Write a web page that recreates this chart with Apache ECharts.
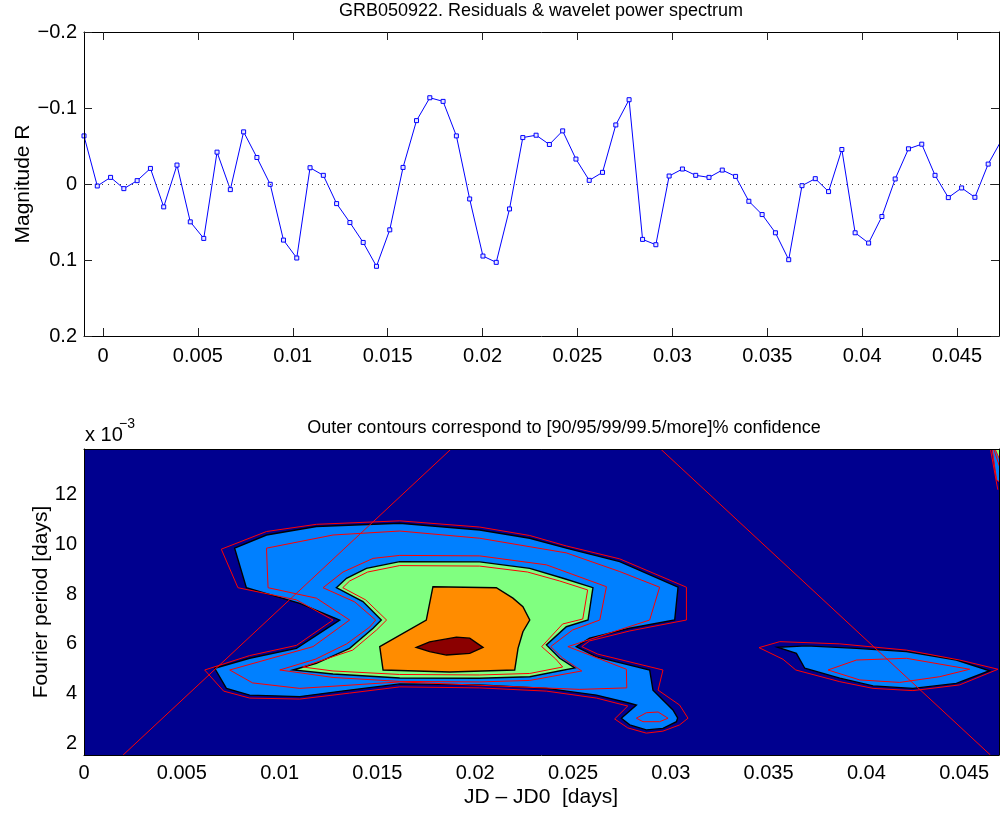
<!DOCTYPE html>
<html><head><meta charset="utf-8">
<script src="https://cdn.jsdelivr.net/npm/echarts@6/dist/echarts.min.js"></script>
<style>html,body{margin:0;padding:0;background:#fff}#c{width:1000px;height:814px}</style>
</head><body><div id="c"></div><script>
// ---------------- data: top panel (residuals) ----------------
const timeDays = [-0.00100,-0.00030,0.00040,0.00110,0.00180,0.00250,0.00320,0.00390,0.00460,0.00531,
  0.00601,0.00671,0.00741,0.00811,0.00881,0.00951,0.01021,0.01091,0.01161,0.01231,
  0.01301,0.01371,0.01441,0.01511,0.01581,0.01652,0.01722,0.01792,0.01862,0.01932,
  0.02002,0.02072,0.02142,0.02212,0.02282,0.02352,0.02422,0.02492,0.02562,0.02632,
  0.02702,0.02772,0.02843,0.02913,0.02983,0.03053,0.03123,0.03193,0.03263,0.03333,
  0.03403,0.03473,0.03543,0.03613,0.03683,0.03753,0.03823,0.03893,0.03963,0.04034,
  0.04104,0.04174,0.04244,0.04314,0.04384,0.04454,0.04524,0.04594,0.04664,0.04734];
const residualMag = [-0.0633,0.0026,-0.0087,0.0061,-0.0044,-0.0205,0.0301,-0.0249,0.0498,0.0716,
  -0.0419,0.0074,-0.0686,-0.0349,0.0004,0.0738,0.0974,-0.0214,-0.0114,0.0258,
  0.0507,0.0769,0.1083,0.0603,-0.0218,-0.0834,-0.1135,-0.1087,-0.0633,0.0197,
  0.0948,0.1031,0.0328,-0.0611,-0.0642,-0.0520,-0.0699,-0.0328,-0.0048,-0.0153,
  -0.0777,-0.1109,0.0729,0.0799,-0.0105,-0.0197,-0.0114,-0.0087,-0.0183,-0.0100,
  0.0227,0.0402,0.0642,0.0996,0.0022,-0.0070,0.0100,-0.0454,0.0642,0.0777,
  0.0428,-0.0066,-0.0463,-0.0524,-0.0114,0.0179,0.0052,0.0175,-0.0262,-0.0576];
const xTicks = [0,0.005,0.01,0.015,0.02,0.025,0.03,0.035,0.04,0.045];
const magTicks = [-0.2,-0.1,0,0.1,0.2];
const periodTicks = [2,4,6,8,10,12]; // x 10^-3 days

// ---------------- data: bottom panel (wavelet contours, [time days, period 1e-3 days]) ----------------
const blueMain = [[0.00770,9.85],[0.00933,10.38],[0.01188,10.72],[0.01614,10.85],[0.02023,10.58],[0.02279,10.25],[0.02466,9.85],[0.02739,9.31],[0.03037,8.28],[0.03020,6.96],[0.02790,6.63],[0.02585,6.23],[0.02517,5.89],[0.02620,5.48],[0.02892,4.95],[0.02909,4.14],[0.03011,3.34],[0.03035,3.02],[0.03029,2.87],[0.02960,2.60],[0.02875,2.54],[0.02790,2.74],[0.02747,3.01],[0.02824,3.54],[0.02790,3.61],[0.02620,3.94],[0.02364,4.21],[0.02023,4.35],[0.01614,4.39],[0.01358,4.14],[0.01103,3.88],[0.00847,3.94],[0.00728,4.21],[0.00668,5.02],[0.00847,5.42],[0.01086,5.82],[0.01307,6.96],[0.01103,7.63],[0.00830,8.26]];
const blueRight = [[0.03548,5.86],[0.03642,5.62],[0.03685,5.02],[0.03864,4.62],[0.04034,4.31],[0.04238,4.21],[0.04460,4.41],[0.04630,4.92],[0.04460,5.35],[0.04205,5.69],[0.03949,5.82],[0.03693,5.92]];
const greenMain = [[0.01290,8.26],[0.01342,8.64],[0.01444,9.04],[0.01614,9.31],[0.02023,9.30],[0.02279,9.04],[0.02449,8.64],[0.02602,8.26],[0.02577,6.96],[0.02466,6.69],[0.02364,5.96],[0.02432,5.42],[0.02509,5.03],[0.02279,4.68],[0.02023,4.62],[0.01614,4.63],[0.01273,4.79],[0.01069,4.95],[0.01188,5.22],[0.01358,5.82],[0.01478,6.63],[0.01520,6.96],[0.01426,7.70]];
const orangeMain = [[0.01784,8.30],[0.02108,8.26],[0.02193,7.84],[0.02244,7.50],[0.02279,6.96],[0.02244,6.49],[0.02219,5.82],[0.02202,4.95],[0.01870,4.87],[0.01529,4.95],[0.01512,5.89],[0.01750,6.96]];
const darkRedMain = [[0.01699,5.86],[0.01767,6.08],[0.01904,6.27],[0.01972,6.23],[0.02040,5.86],[0.01972,5.62],[0.01853,5.55],[0.01767,5.69]];
const sig90Main = [[0.00702,9.81],[0.00933,10.52],[0.01188,10.81],[0.01614,10.95],[0.02023,10.70],[0.02279,10.36],[0.02466,9.94],[0.02739,9.42],[0.03080,8.28],[0.03080,6.96],[0.02790,6.52],[0.02585,6.12],[0.02545,5.89],[0.02626,5.59],[0.02960,4.95],[0.02935,4.14],[0.03045,3.54],[0.03088,3.01],[0.03045,2.74],[0.02960,2.49],[0.02875,2.41],[0.02780,2.62],[0.02713,2.98],[0.02780,3.50],[0.02620,3.82],[0.02364,4.10],[0.02023,4.23],[0.01614,4.27],[0.01358,4.02],[0.01103,3.78],[0.00847,3.82],[0.00714,4.10],[0.00617,4.95],[0.00847,5.53],[0.01086,5.94],[0.01273,6.96],[0.01086,7.77],[0.00787,8.26]];
const sig90Right = [[0.03451,5.85],[0.03574,5.38],[0.03639,4.95],[0.03864,4.48],[0.04034,4.21],[0.04238,4.12],[0.04477,4.35],[0.04673,4.98],[0.04477,5.35],[0.04205,5.75],[0.03864,6.00],[0.03557,6.09]];
const sig95Main = [[0.00933,9.85],[0.01273,10.38],[0.01614,10.54],[0.02023,10.25],[0.02466,9.66],[0.02739,8.91],[0.02943,8.28],[0.02892,6.96],[0.02474,5.89],[0.02773,4.98],[0.02775,4.23],[0.02534,4.17],[0.02193,4.28],[0.01614,4.47],[0.01103,4.21],[0.00862,4.43],[0.00745,4.95],[0.01171,5.89],[0.01358,6.96],[0.01188,7.84],[0.00941,8.26]];
const sig95Lobe = [[0.02824,3.01],[0.02875,3.23],[0.02935,3.26],[0.02986,3.01],[0.02943,2.87],[0.02858,2.87]];
const sig95Right = [[0.03804,4.95],[0.03949,5.35],[0.04205,5.42],[0.04528,4.98],[0.04375,4.68],[0.04170,4.45],[0.03966,4.55]];
const sig99Main = [[0.01222,8.26],[0.01324,8.89],[0.01478,9.44],[0.01614,9.56],[0.02023,9.54],[0.02364,9.18],[0.02671,8.30],[0.02637,6.96],[0.02498,6.56],[0.02386,5.89],[0.02447,5.43],[0.02545,4.91],[0.02279,4.53],[0.02023,4.47],[0.01614,4.49],[0.01273,4.65],[0.01001,4.95],[0.01185,5.39],[0.01343,6.00],[0.01461,6.68],[0.01491,6.96],[0.01384,7.69]];
const sig995Main = [[0.01323,8.26],[0.01358,8.53],[0.01450,8.89],[0.01614,9.15],[0.02023,9.13],[0.02268,8.89],[0.02432,8.53],[0.02575,8.17],[0.02550,7.00],[0.02447,6.80],[0.02340,5.89],[0.02412,5.39],[0.02447,5.07],[0.02279,4.81],[0.02023,4.75],[0.01614,4.77],[0.01273,4.91],[0.01118,5.07],[0.01205,5.31],[0.01374,5.75],[0.01496,6.56],[0.01547,6.96],[0.01440,7.77]];
const cornerBlue = [[0.04643,13.84],[0.04700,13.84],[0.04700,12.39],[0.04666,12.60]];
const cornerGreen = [[0.04658,13.84],[0.04700,13.84],[0.04700,13.08]];
const cornerSig1 = [[0.04634,13.84],[0.04672,12.20]];
const cornerSig2 = [[0.04651,13.84],[0.04700,12.67]];
const coiLeft = [[0.00200,1.53],[0.01877,13.84]];
const coiRight = [[0.02948,13.84],[0.04634,1.53]];

// ---------------- styles ----------------
const NAVY = '#00008F', BLUE = '#0080FF', GREEN = '#80FF80', ORANGE = '#FF8C00', DARKRED = '#8B0000';
const FONT = '"Liberation Sans", Arial, Helvetica, sans-serif';

const shapes = [
  {pts: blueMain, kind: 'fill', color: BLUE},
  {pts: blueRight, kind: 'fill', color: BLUE},
  {pts: cornerBlue, kind: 'fillNoEdge', color: BLUE},
  {pts: cornerGreen, kind: 'fillNoEdge', color: GREEN},
  {pts: sig90Main, kind: 'loop'},
  {pts: sig90Right, kind: 'loop'},
  {pts: sig95Main, kind: 'loop'},
  {pts: sig95Lobe, kind: 'loop'},
  {pts: sig95Right, kind: 'loop'},
  {pts: greenMain, kind: 'fill', color: GREEN},
  {pts: sig99Main, kind: 'loop'},
  {pts: sig995Main, kind: 'loop'},
  {pts: orangeMain, kind: 'fill', color: ORANGE},
  {pts: darkRedMain, kind: 'fill', color: DARKRED},
  {pts: cornerSig1, kind: 'line'},
  {pts: cornerSig2, kind: 'line'},
  {pts: coiLeft, kind: 'line'},
  {pts: coiRight, kind: 'line'}
];

function renderShape(params, api) {
  const s = shapes[api.value(2)];
  const pts = s.pts.map(p => api.coord(p));
  const cs = params.coordSys;
  let el;
  if (s.kind === 'fill') {
    el = {type: 'polygon', shape: {points: pts}, style: {fill: s.color, stroke: '#000', lineWidth: 1.4}};
  } else if (s.kind === 'fillNoEdge') {
    el = {type: 'polygon', shape: {points: pts}, style: {fill: s.color, stroke: '#ff0000', lineWidth: 1}};
  } else if (s.kind === 'loop') {
    el = {type: 'polygon', shape: {points: pts}, style: {fill: 'none', stroke: '#ff0000', lineWidth: 1}};
  } else {
    el = {type: 'polyline', shape: {points: pts}, style: {fill: 'none', stroke: '#ff0000', lineWidth: 1}};
  }
  return {type: 'group', clipPath: {type: 'rect', shape: {x: cs.x, y: cs.y, width: cs.width, height: cs.height}}, children: [el]};
}

const minusFmt = v => (v < 0 ? '\u2212' + String(Math.abs(v)) : String(v));
const lineBlack = {show: true, onZero: false, lineStyle: {color: '#000', width: 1}};
const tickIn = vals => ({show: true, inside: true, length: 8, customValues: vals, lineStyle: {color: '#222', width: 1}});
const lbl = (vals, margin, fmt) => ({show: true, customValues: vals, margin: margin, fontSize: 20, fontFamily: FONT, color: '#000', formatter: fmt});

const chart = echarts.init(document.getElementById('c'), null, {renderer: 'canvas', width: 1000, height: 814});
chart.setOption({
  animation: false,
  backgroundColor: '#fff',
  grid: [
    {left: 84, top: 32, width: 915, height: 304, show: false},
    {left: 84, top: 449, width: 915, height: 306, show: true, backgroundColor: NAVY, borderWidth: 0}
  ],
  xAxis: [
    {type: 'value', gridIndex: 0, position: 'bottom', min: -0.001, max: 0.04721, axisLine: lineBlack,
     axisTick: tickIn(xTicks), axisLabel: lbl(xTicks, 10, v => String(v)), splitLine: {show: false}, z: 10},
    {type: 'value', gridIndex: 0, position: 'top', min: -0.001, max: 0.04721, axisLine: lineBlack,
     axisTick: tickIn(xTicks), axisLabel: {show: false}, splitLine: {show: false}, z: 10},
    {type: 'value', gridIndex: 1, position: 'bottom', min: 0, max: 0.04678, axisLine: lineBlack,
     axisTick: {show: false}, axisLabel: lbl(xTicks, 8, v => String(v)), splitLine: {show: false}, z: 10},
    {type: 'value', gridIndex: 1, position: 'top', min: 0, max: 0.04678, axisLine: lineBlack,
     axisTick: {show: false}, axisLabel: {show: false}, splitLine: {show: false}, z: 10}
  ],
  yAxis: [
    {type: 'value', gridIndex: 0, position: 'left', inverse: true, min: -0.2, max: 0.2, axisLine: lineBlack,
     axisTick: tickIn(magTicks), axisLabel: lbl(magTicks, 7, minusFmt), splitLine: {show: false}, z: 10},
    {type: 'value', gridIndex: 0, position: 'right', inverse: true, min: -0.2, max: 0.2, axisLine: lineBlack,
     axisTick: tickIn(magTicks), axisLabel: {show: false}, splitLine: {show: false}, z: 10},
    {type: 'value', gridIndex: 1, position: 'left', min: 1.53, max: 13.84, axisLine: lineBlack,
     axisTick: {show: false}, axisLabel: lbl(periodTicks, 7, v => String(v)), splitLine: {show: false}, z: 10},
    {type: 'value', gridIndex: 1, position: 'right', min: 1.53, max: 13.84, axisLine: lineBlack,
     axisTick: {show: false}, axisLabel: {show: false}, splitLine: {show: false}, z: 10}
  ],
  series: [
    {
      type: 'line', xAxisIndex: 0, yAxisIndex: 0,
      data: timeDays.map((t, i) => [t, residualMag[i]]),
      symbol: 'rect', symbolSize: 4, showSymbol: true, showAllSymbol: true, clip: true,
      lineStyle: {color: '#0000FF', width: 1},
      itemStyle: {color: '#E8E8FF', borderColor: '#0000FF', borderWidth: 1},
      emphasis: {disabled: true},
      markLine: {
        silent: true, symbol: ['none', 'none'], label: {show: false},
        lineStyle: {color: '#444', type: [1, 5], width: 1},
        data: [{yAxis: 0}]
      }
    },
    {
      type: 'custom', xAxisIndex: 2, yAxisIndex: 2,
      data: shapes.map((s, i) => [s.pts[0][0], s.pts[0][1], i]),
      renderItem: renderShape,
      silent: true
    }
  ],
  graphic: [
    {type: 'text', x: 541, y: 11, style: {text: 'GRB050922. Residuals & wavelet power spectrum', font: '18px ' + FONT, fill: '#000', align: 'center', verticalAlign: 'middle'}},
    {type: 'text', x: 564, y: 428, style: {text: 'Outer contours correspond to [90/95/99/99.5/more]% confidence', font: '18px ' + FONT, fill: '#000', align: 'center', verticalAlign: 'middle'}},
    {type: 'text', x: 23, y: 184, rotation: Math.PI / 2, style: {text: 'Magnitude R', font: '21px ' + FONT, fill: '#000', align: 'center', verticalAlign: 'middle'}},
    {type: 'text', x: 41, y: 602, rotation: Math.PI / 2, style: {text: 'Fourier period [days]', font: '21px ' + FONT, fill: '#000', align: 'center', verticalAlign: 'middle'}},
    {type: 'text', x: 541, y: 797, style: {text: 'JD \u2013 JD0  [days]', font: '21px ' + FONT, fill: '#000', align: 'center', verticalAlign: 'middle'}},
    {type: 'text', x: 85, y: 435, style: {text: 'x 10', font: '20px ' + FONT, fill: '#000', align: 'left', verticalAlign: 'middle'}},
    {type: 'text', x: 119, y: 424, style: {text: '\u22123', font: '14px ' + FONT, fill: '#000', align: 'left', verticalAlign: 'middle'}}
  ]
});
</script></body></html>
